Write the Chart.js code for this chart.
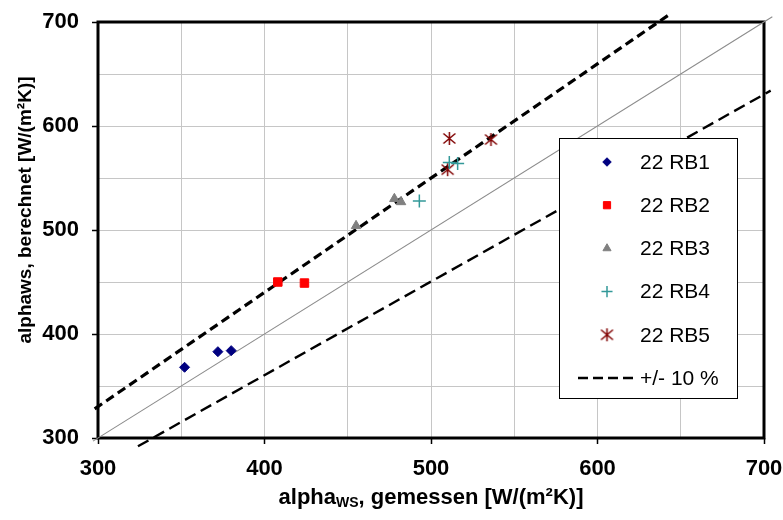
<!DOCTYPE html>
<html>
<head>
<meta charset="utf-8">
<script src="https://cdn.jsdelivr.net/npm/chart.js@4.4.1/dist/chart.umd.min.js"></script>
<style>
  html, body { margin: 0; padding: 0; background: #fff; }
  canvas { display: block; }
</style>
</head>
<body>
<canvas id="chart" width="783" height="520"></canvas>
<script>
// Messwerte [W/(m²K)] : x = gemessen, y = berechnet
const rb1X = [352, 372, 380];
const rb1Y = [368, 383, 384];
const rb2X = [408, 424];
const rb2Y = [450, 449];
const rb3X = [455, 478, 482];
const rb3Y = [504, 530, 527];
const rb4X = [493, 511, 516];
const rb4Y = [528, 565, 564];
const rb5X = [511, 536, 510];
const rb5Y = [588, 587, 558];

// Hilfslinien (Endpunkte wie im Original gezeichnet)
const diagX = [297, 705];
const diagY = [297, 705];
const plusX = [298, 643];
const plusY = [328, 707];
const minusX = [324, 704];
const minusY = [292, 634];

const seriesNames = ['22 RB1', '22 RB2', '22 RB3', '22 RB4', '22 RB5'];
const bandName = '+/- 10 %';
const tickLabels = [300, 400, 500, 600, 700];

const FONT = "'Liberation Sans', Arial, sans-serif";

function pts(xs, ys) {
    return xs.map((x, i) => ({ x: x, y: ys[i] }));
}

// Excel-Stern: X mit senkrechtem Strich
function makeAsterisk(color) {
    const c = document.createElement('canvas');
    c.width = 15; c.height = 15;
    const g = c.getContext('2d');
    g.strokeStyle = color;
    g.lineWidth = 1.5;
    g.beginPath();
    g.moveTo(1.5, 2.5); g.lineTo(13.5, 12.5);
    g.moveTo(13.5, 2.5); g.lineTo(1.5, 12.5);
    g.moveTo(7.5, 1); g.lineTo(7.5, 14);
    g.stroke();
    return c;
}

function pointSet(label, xs, ys, color, style, radius, extra) {
    return Object.assign({
        label: label,
        data: pts(xs, ys),
        pointStyle: style,
        pointRadius: radius,
        backgroundColor: color,
        borderColor: color,
        borderWidth: 1,
        showLine: false
    }, extra || {});
}

function lineSet(label, xs, ys, color, width, dash, inLegend) {
    return {
        label: label,
        data: pts(xs, ys),
        showLine: true,
        pointRadius: 0,
        borderColor: color,
        borderWidth: width,
        borderDash: dash,
        fill: false,
        clip: false,
        inLegend: inLegend
    };
}

const datasets = [
    pointSet(seriesNames[0], rb1X, rb1Y, '#000080', 'rectRot', 5),
    pointSet(seriesNames[1], rb2X, rb2Y, '#ff0000', 'rect', 6),
    pointSet(seriesNames[2], rb3X, rb3Y, '#808080', 'triangle', 5.5),
    pointSet(seriesNames[3], rb4X, rb4Y, '#339999', 'cross', 6.5, { borderWidth: 1.5 }),
    pointSet(seriesNames[4], rb5X, rb5Y, '#800000', makeAsterisk('#800000'), 7),
    lineSet(bandName, plusX, plusY, '#000000', 3.2, [9, 5], true),
    lineSet('', minusX, minusY, '#000000', 2.4, [12, 6], false),
    lineSet('', diagX, diagY, '#8c8c8c', 1.1, [], false)
];

// Rahmen um die Zeichenfläche
const frame = {
    id: 'frame',
    beforeDatasetsDraw(chart) {
        const a = chart.chartArea, ctx = chart.ctx;
        ctx.save();
        ctx.strokeStyle = '#000';
        ctx.lineWidth = 3;
        ctx.strokeRect(a.left, a.top, a.right - a.left, a.bottom - a.top);
        ctx.restore();
    }
};

// Legende innerhalb der Zeichenfläche
const insideLegend = {
    id: 'insideLegend',
    afterDraw(chart) {
        const ctx = chart.ctx;
        const bx = 559, by = 138, bw = 178, bh = 260;
        ctx.save();
        ctx.fillStyle = '#fff';
        ctx.fillRect(bx, by, bw, bh);
        ctx.strokeStyle = '#000';
        ctx.lineWidth = 1;
        ctx.strokeRect(bx + 0.5, by + 0.5, bw, bh);
        ctx.font = '21px ' + FONT;
        ctx.textBaseline = 'middle';
        ctx.fillStyle = '#000';
        let row = 0;
        chart.data.datasets.forEach(function(ds) {
            if (ds.showLine && !ds.inLegend) return;
            const y = by + 24 + row * 43.2;
            if (ds.showLine) {
                ctx.save();
                ctx.strokeStyle = ds.borderColor;
                ctx.lineWidth = 2.4;
                ctx.setLineDash([10, 5]);
                ctx.beginPath();
                ctx.moveTo(578, y);
                ctx.lineTo(636, y);
                ctx.stroke();
                ctx.restore();
            } else {
                ctx.save();
                ctx.fillStyle = ds.backgroundColor;
                ctx.strokeStyle = ds.borderColor;
                ctx.lineWidth = ds.borderWidth;
                Chart.helpers.drawPoint(ctx, {
                    pointStyle: ds.pointStyle,
                    radius: ds.pointRadius * 0.85,
                    rotation: 0,
                    borderWidth: ds.borderWidth
                }, 607, y);
                ctx.restore();
            }
            ctx.fillText(ds.label, 640, y + 1);
            row++;
        });
        ctx.restore();
    }
};

// Achsentitel (x mit tiefgestelltem "WS")
const axisTitles = {
    id: 'axisTitles',
    afterDraw(chart) {
        const ctx = chart.ctx;
        ctx.save();
        ctx.fillStyle = '#000';
        ctx.textBaseline = 'alphabetic';

        const big = 'bold 22px ' + FONT;
        const small = 'bold 14px ' + FONT;
        const p1 = 'alpha', sub = 'WS', p2 = ', gemessen [W/(m\u00b2K)]';
        ctx.font = big;
        const w1 = ctx.measureText(p1).width, w3 = ctx.measureText(p2).width;
        ctx.font = small;
        const w2 = ctx.measureText(sub).width;
        const cx = (chart.chartArea.left + chart.chartArea.right) / 2;
        let x = cx - (w1 + w2 + w3) / 2;
        const base = 504;
        ctx.textAlign = 'left';
        ctx.font = big; ctx.fillText(p1, x, base); x += w1;
        ctx.font = small; ctx.fillText(sub, x, base + 3); x += w2;
        ctx.font = big; ctx.fillText(p2, x, base);

        ctx.translate(26, 210);
        ctx.rotate(-Math.PI / 2);
        ctx.textAlign = 'center';
        ctx.textBaseline = 'middle';
        ctx.font = 'bold 19px ' + FONT;
        ctx.fillText('alphaws, berechnet [W/(m\u00b2K)]', 0, 0);
        ctx.restore();
    }
};

function showTick(v) {
    return tickLabels.indexOf(v) >= 0;
}

const axisBase = {
    type: 'linear',
    min: tickLabels[0],
    max: tickLabels[tickLabels.length - 1],
    border: { display: false },
    grid: {
        color: '#c6c6c6',
        lineWidth: 1,
        tickLength: 6,
        tickColor: ctx => (ctx.tick && showTick(ctx.tick.value)) ? '#000' : 'rgba(0,0,0,0)',
        tickWidth: 1.5
    }
};

new Chart(document.getElementById('chart'), {
    type: 'scatter',
    data: { datasets: datasets },
    options: {
        responsive: false,
        animation: false,
        events: [],
        layout: { padding: { top: 22, right: 0, left: 0, bottom: 0 } },
        plugins: { legend: { display: false }, tooltip: { enabled: false } },
        scales: {
            x: Object.assign({}, axisBase, {
                position: 'bottom',
                afterFit: s => { s.height = 82; s.paddingRight = 19; s.paddingLeft = 0; },
                ticks: {
                    stepSize: 50,
                    autoSkip: false,
                    maxRotation: 0,
                    padding: 12,
                    color: '#000',
                    font: { family: FONT, size: 22, weight: 'bold' },
                    callback: v => showTick(v) ? v : ''
                }
            }),
            y: Object.assign({}, axisBase, {
                position: 'left',
                afterFit: s => { s.width = 98; s.paddingTop = 0; s.paddingBottom = 0; },
                ticks: {
                    stepSize: 50,
                    autoSkip: false,
                    padding: 13,
                    color: '#000',
                    font: { family: FONT, size: 22, weight: 'bold' },
                    callback: v => showTick(v) ? v : ''
                }
            })
        }
    },
    plugins: [frame, insideLegend, axisTitles]
});
</script>
</body>
</html>
